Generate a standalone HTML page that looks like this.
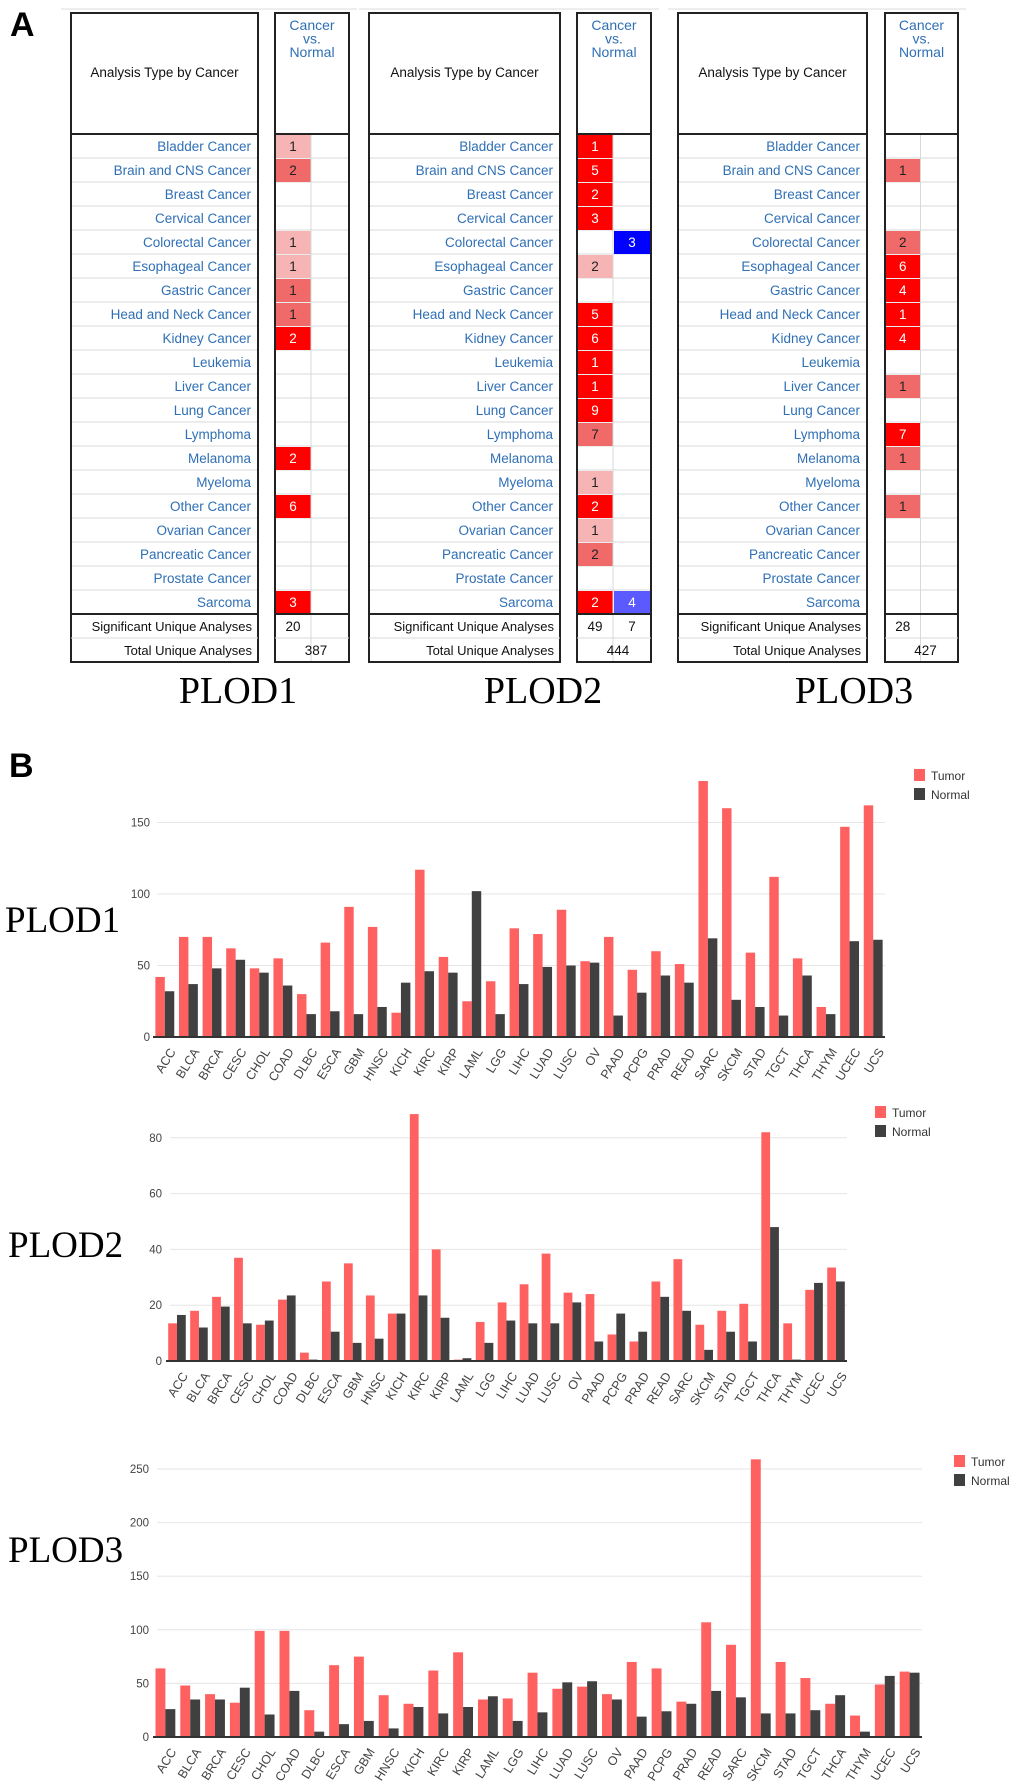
<!DOCTYPE html>
<html><head><meta charset="utf-8"><style>
html,body{margin:0;padding:0;background:#fff;}
svg{display:block;font-family:"Liberation Sans",Arial,sans-serif;}
</style></head><body>
<svg id="fig" width="1020" height="1789" viewBox="0 0 1020 1789" xmlns="http://www.w3.org/2000/svg">
<rect width="1020" height="1789" fill="#fff"/>
<text x="10" y="36" font-size="34" font-weight="bold">A</text>
<text x="9" y="777" font-size="34" font-weight="bold">B</text>
<g font-family="Liberation Serif, serif" font-size="38" fill="#000">
<text x="238" y="703" text-anchor="middle">PLOD1</text>
<text x="543" y="703" text-anchor="middle">PLOD2</text>
<text x="854" y="703" text-anchor="middle">PLOD3</text>
<text x="5" y="932" font-size="37">PLOD1</text>
<text x="8" y="1257" font-size="37">PLOD2</text>
<text x="8" y="1562" font-size="37">PLOD3</text>
</g>
<g id="tables"></g>
<g id="charts"></g>
</svg>
<script>
const NS="http://www.w3.org/2000/svg";
const cancers=["Bladder Cancer","Brain and CNS Cancer","Breast Cancer","Cervical Cancer","Colorectal Cancer","Esophageal Cancer","Gastric Cancer","Head and Neck Cancer","Kidney Cancer","Leukemia","Liver Cancer","Lung Cancer","Lymphoma","Melanoma","Myeloma","Other Cancer","Ovarian Cancer","Pancreatic Cancer","Prostate Cancer","Sarcoma"];
const t1Up=["1:l","2:m","","","1:l","1:l","1:m","1:m","2:r","","","","","2:r","","6:r","","","","3:r"];
const t1Down=["","","","","","","","","","","","","","","","","","","",""];
const t2Up=["1:r","5:r","2:r","3:r","","2:l","","5:r","6:r","1:r","1:r","9:r","7:m","","1:l","2:r","1:l","2:m","","2:r"];
const t2Down=["","","","","3:B","","","","","","","","","","","","","","","4:b"];
const t3Up=["","1:m","","","2:m","6:r","4:r","1:r","4:r","","1:m","","7:r","1:m","","1:m","","","",""];
const t3Down=["","","","","","","","","","","","","","","","","","","",""];
const sigVals=[["20",""],["49","7"],["28",""]];
const totVals=["387","444","427"];

const tableSpecs=[{L:71,R:258,C1:275,C2:349,up:t1Up,down:t1Down},{L:369,R:560,C1:577,C2:651,up:t2Up,down:t2Down},{L:678,R:867,C1:885,C2:958,up:t3Up,down:t3Down}];
const colors={l:"#f6b4b4",m:"#f06a6a",r:"#ff0000",B:"#0000ff",b:"#5a5aff"};
function mk(tag,attrs,parent){const e=document.createElementNS(NS,tag);for(const k in attrs)e.setAttribute(k,attrs[k]);parent.appendChild(e);return e;}
const tg=document.getElementById("tables");
const TOP=13,HB=134,RH=24;
tableSpecs.forEach((s,ti)=>{
  const g=mk("g",{},tg);
  
  
  mk("line",{x1:s.L-10,x2:s.C2+8,y1:9,y2:9,stroke:"#ddd","stroke-width":1},g);
  const mid=(s.C1+s.C2)/2-1;
  const bodyEnd=HB+RH*20;
  for(let i=0;i<20;i++){
    const y=HB+RH*i;
    mk("line",{x1:s.L,x2:s.R,y1:y+RH,y2:y+RH,stroke:"#d8d8d8"},g);
    mk("line",{x1:s.C1,x2:s.C2,y1:y+RH,y2:y+RH,stroke:"#d8d8d8"},g);
    const t=mk("text",{x:s.R-7,y:y+17,"font-size":13.5,fill:"#2f6fb5","text-anchor":"end"},g);
    t.textContent=cancers[i];
    
    
    [[s.up[i],s.C1,mid],[s.down[i],mid,s.C2]].forEach(([v,a,b])=>{
      if(!v)return;
      const [val,lv]=v.split(":");
      const r=mk("rect",{x:a+1,y:y+1,width:b-a-1,height:RH-1,fill:colors[lv]},g);
      
      
      const tx=mk("text",{x:(a+b)/2,y:y+17,"font-size":13.5,"text-anchor":"middle",fill:(lv==="l"||lv==="m")?"#222":"#fff"},g);
      tx.textContent=val;
    });
  }
  mk("line",{x1:mid,x2:mid,y1:HB,y2:HB+RH*22,stroke:"#d8d8d8"},g);
  mk("rect",{x:s.L,y:TOP,width:s.R-s.L,height:HB-TOP,fill:"none",stroke:"#222","stroke-width":2},g);
  mk("rect",{x:s.C1,y:TOP,width:s.C2-s.C1,height:HB-TOP,fill:"none",stroke:"#222","stroke-width":2},g);
  mk("rect",{x:s.L,y:HB,width:s.R-s.L,height:RH*20,fill:"none",stroke:"#222","stroke-width":2},g);
  mk("rect",{x:s.C1,y:HB,width:s.C2-s.C1,height:RH*20,fill:"none",stroke:"#222","stroke-width":2},g);
  mk("rect",{x:s.L,y:bodyEnd,width:s.R-s.L,height:RH*2,fill:"none",stroke:"#222","stroke-width":2},g);
  mk("rect",{x:s.C1,y:bodyEnd,width:s.C2-s.C1,height:RH*2,fill:"none",stroke:"#222","stroke-width":2},g);
  mk("line",{x1:s.L,x2:s.R,y1:bodyEnd+RH,y2:bodyEnd+RH,stroke:"#d8d8d8"},g);
  mk("line",{x1:s.C1,x2:s.C2,y1:bodyEnd+RH,y2:bodyEnd+RH,stroke:"#d8d8d8"},g);
  const h=mk("text",{x:(s.L+s.R)/2,y:77,"font-size":13.5,"text-anchor":"middle",fill:"#111"},g);
  h.textContent="Analysis Type by Cancer";
  
  
  ["Cancer","vs.","Normal"].forEach((w,k)=>{const t=mk("text",{x:(s.C1+s.C2)/2,y:30+k*13.5,"font-size":14,"text-anchor":"middle",fill:"#2f6fb5"},g);t.textContent=w;});
  const sl=mk("text",{x:s.R-6,y:bodyEnd+17,"font-size":13,"text-anchor":"end",fill:"#111"},g);
  sl.textContent="Significant Unique Analyses";
  
  
  const tl=mk("text",{x:s.R-6,y:bodyEnd+RH+17,"font-size":13,"text-anchor":"end",fill:"#111"},g);
  tl.textContent="Total Unique Analyses";
  
  
  const a=mk("text",{x:(s.C1+mid)/2,y:bodyEnd+17,"font-size":13.5,"text-anchor":"middle",fill:"#111"},g);a.textContent=sigVals[ti][0];
  const b=mk("text",{x:(mid+s.C2)/2,y:bodyEnd+17,"font-size":13.5,"text-anchor":"middle",fill:"#111"},g);b.textContent=sigVals[ti][1];
  const c=mk("text",{x:(s.C1+s.C2)/2+4,y:bodyEnd+RH+17,"font-size":13.5,"text-anchor":"middle",fill:"#111"},g);c.textContent=totVals[ti];
});

const categories=["ACC","BLCA","BRCA","CESC","CHOL","COAD","DLBC","ESCA","GBM","HNSC","KICH","KIRC","KIRP","LAML","LGG","LIHC","LUAD","LUSC","OV","PAAD","PCPG","PRAD","READ","SARC","SKCM","STAD","TGCT","THCA","THYM","UCEC","UCS"];
const plod1Tumor=[42,70,70,62,48,55,30,66,91,77,17,117,56,25,39,76,72,89,53,70,47,60,51,179,160,59,112,55,21,147,162];
const plod1Normal=[32,37,48,54,45,36,16,18,16,21,38,46,45,102,16,37,49,50,52,15,31,43,38,69,26,21,15,43,16,67,68];
const plod1Ticks=[0,50,100,150];
const plod2Tumor=[13.5,18,23,37,13,22,3,28.5,35,23.5,17,88.5,40,0.5,14,21,27.5,38.5,24.5,24,9.5,7,28.5,36.5,13,18,20.5,82,13.5,25.5,33.5];
const plod2Normal=[16.5,12,19.5,13.5,14.5,23.5,0.5,10.5,6.5,8,17,23.5,15.5,1,6.5,14.5,13.5,13.5,21,7,17,10.5,23,18,4,10.5,7,48,0.5,28,28.5];
const plod2Ticks=[0,20,40,60,80];
const plod3Tumor=[64,48,40,32,99,99,25,67,75,39,31,62,79,35,36,60,45,47,40,70,64,33,107,86,259,70,55,31,20,49,61];
const plod3Normal=[26,35,35,46,21,43,5,12,15,8,28,22,28,38,15,23,51,52,35,19,24,31,43,37,22,22,25,39,5,57,60];
const plod3Ticks=[0,50,100,150,200,250];
const legendLabels=["Tumor","Normal"];

const chartSpecs=[
 {name:"plod1",tumor:plod1Tumor,normal:plod1Normal,ticks:plod1Ticks,x0:153,x1:885,y0:1037,ppu:1.43,tickX:150,legX:914,legY:775},
 {name:"plod2",tumor:plod2Tumor,normal:plod2Normal,ticks:plod2Ticks,x0:166,x1:847,y0:1361,ppu:2.79,tickX:162,legX:875,legY:1112},
 {name:"plod3",tumor:plod3Tumor,normal:plod3Normal,ticks:plod3Ticks,x0:153,x1:922,y0:1737,ppu:1.072,tickX:149,legX:954,legY:1461}
];
const cg=document.getElementById("charts");
chartSpecs.forEach(s=>{
  const g=mk("g",{},cg);
  
  
  const step=(s.x1-s.x0)/categories.length;
  const xs=i=>s.x0+step*(i+0.5);
  const ys=v=>s.y0-v*s.ppu;
  const bw=step*0.4;
  s.ticks.forEach(t=>{
    if(t>0){const gl=mk("line",{x1:s.x0+4,x2:s.x1,y1:ys(t),y2:ys(t),stroke:"#e6e6e6","stroke-width":1},g);
      
      }
    const tl=mk("text",{x:s.tickX,y:ys(t)+4,"font-size":11.5,"text-anchor":"end",fill:"#444"},g);
    tl.textContent=t;
    
    
  });
  categories.forEach((c,i)=>{
    const cx=xs(i);
    const rt=mk("rect",{x:cx-bw,y:ys(s.tumor[i]),width:bw,height:s.tumor[i]*s.ppu,fill:"#ff6161"},g);
    
    
    const rn=mk("rect",{x:cx,y:ys(s.normal[i]),width:bw,height:s.normal[i]*s.ppu,fill:"#404040"},g);
    
    
    const lx=cx+4,ly=s.y0+10;
    const xl=mk("text",{x:lx,y:ly,"font-size":12.5,"text-anchor":"end",fill:"#444",transform:`rotate(-58 ${lx} ${ly})`,dy:"0.7em"},g);
    xl.textContent=c;
    
    
  });
  const ax=mk("line",{x1:s.x0,x2:s.x1,y1:s.y0,y2:s.y0,stroke:"#333","stroke-width":2},g);
  
  
  legendLabels.forEach((l,k)=>{
    const sw=mk("rect",{x:s.legX,y:s.legY+k*19-6,width:11,height:12,fill:k?"#404040":"#ff6161"},g);
    
    
    const lt=mk("text",{x:s.legX+17,y:s.legY+k*19+5,"font-size":12,fill:"#333"},g);
    lt.textContent=l;
    
    
  });
});
</script>
</body></html>
